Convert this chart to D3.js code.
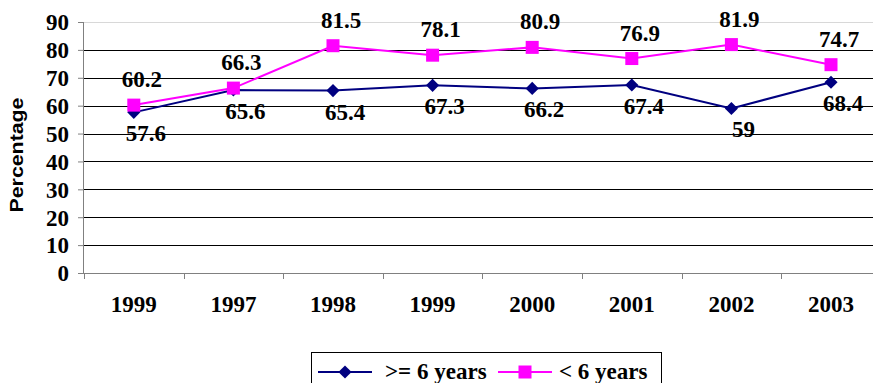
<!DOCTYPE html>
<html><head><meta charset="utf-8">
<script src="https://cdn.jsdelivr.net/npm/d3@7"></script>
<style>body{margin:0;background:#fff}svg{display:block}</style>
</head><body><svg id="c" width="873" height="383"></svg>
<script>
const categories = ["1999","1997","1998","1999","2000","2001","2002","2003"];
const seriesA = [57.6,65.6,65.4,67.3,66.2,67.4,59,68.4];   // >= 6 years
const seriesB = [60.2,66.3,81.5,78.1,80.9,76.9,81.9,74.7]; // < 6 years
const yTicks = [0,10,20,30,40,50,60,70,80,90];
const names = [">= 6 years","< 6 years"];

const svg = d3.select("#c");
const L = 84, T = 22, B = 273, band = 99.6;
const x = d3.scaleBand().domain(d3.range(categories.length)).range([L, L + band*categories.length]);
const y = d3.scaleLinear().domain([0,90]).range([B,T]);
const serif = "'Liberation Serif','Times New Roman',serif";
const FS = 23;

// gridlines
svg.append("g").selectAll("line").data(yTicks).join("line")
  .attr("x1",L).attr("x2",873).attr("y1",d=>Math.round(y(d))+0.5).attr("y2",d=>Math.round(y(d))+0.5)
  .attr("stroke",d=>d===90?"#d8d8d8":"#000").attr("stroke-width",1);

// y axis
const ya = svg.append("g").attr("transform",`translate(${L},0)`)
  .call(d3.axisLeft(y).tickValues(yTicks).tickSize(6).tickPadding(9));
ya.select(".domain").attr("stroke","#808080").attr("d",`M-0.5,${T}V${B}`);
ya.selectAll(".tick line").attr("stroke","#808080");
ya.selectAll("text").attr("font-family",serif).attr("font-weight","bold").attr("font-size",FS).attr("fill","#000").attr("dy","0.34em");

// x axis
const xa = svg.append("g").attr("transform",`translate(0,${B})`);
xa.append("line").attr("x1",L).attr("x2",873).attr("y1",0.5).attr("y2",0.5).attr("stroke","#808080");
xa.selectAll("line.t").data(d3.range(categories.length+1)).join("line").attr("class","t")
  .attr("x1",i=>Math.round(L+i*band)+0.5).attr("x2",i=>Math.round(L+i*band)+0.5).attr("y1",0).attr("y2",6).attr("stroke","#808080");
xa.selectAll("text").data(categories).join("text")
  .attr("x",(d,i)=>x(i)+x.bandwidth()/2).attr("y",39).attr("text-anchor","middle")
  .attr("font-family",serif).attr("font-weight","bold").attr("font-size",FS).text(d=>d);

// y title
svg.append("text").attr("transform","translate(23,155) rotate(-90)").attr("text-anchor","middle")
  .attr("font-family","'Liberation Sans',Arial,sans-serif").attr("font-weight","bold").attr("font-size",19)
  .attr("textLength",115).attr("lengthAdjust","spacingAndGlyphs").text("Percentage");

const cx = i => x(i)+x.bandwidth()/2;
const line = d3.line().x((d,i)=>cx(i)).y(d=>y(d));

svg.append("path").datum(seriesA).attr("d",line).attr("fill","none").attr("stroke","#000080").attr("stroke-width",2);
svg.append("path").datum(seriesB).attr("d",line).attr("fill","none").attr("stroke","#ff00ff").attr("stroke-width",2);

svg.append("g").selectAll("path").data(seriesA).join("path")
  .attr("d",d3.symbol(d3.symbolDiamond2,110)).attr("fill","#000080")
  .attr("transform",(d,i)=>`translate(${cx(i)},${y(d)})`);
svg.append("g").selectAll("rect").data(seriesB).join("rect")
  .attr("x",(d,i)=>cx(i)-6.5).attr("y",d=>y(d)-6.5).attr("width",13).attr("height",13).attr("fill","#ff00ff");

// labels
const lbl = {"font-family":serif,"font-weight":"bold","font-size":FS};
const ga = svg.append("g").selectAll("text").data(seriesA).join("text")
  .attr("x",(d,i)=>cx(i)+12).attr("y",d=>y(d)+29).attr("text-anchor","middle").text(d=>d);
const gb = svg.append("g").selectAll("text").data(seriesB).join("text")
  .attr("x",(d,i)=>cx(i)+8).attr("y",d=>y(d)-18).attr("text-anchor","middle").text(d=>d);
[ga,gb].forEach(g=>{for(const k in lbl) g.attr(k,lbl[k]);});

// legend
const lg = svg.append("g");
lg.append("rect").attr("x",311.5).attr("y",352.5).attr("width",350).attr("height",40).attr("fill","#fff").attr("stroke","#000");
const items=[{c:"#000080",sx:318,tx:385,sym:"d"},{c:"#ff00ff",sx:498,tx:559,sym:"s"}];
items.forEach((it,k)=>{
  const yy=372;
  lg.append("line").attr("x1",it.sx).attr("x2",it.sx+54).attr("y1",yy).attr("y2",yy).attr("stroke",it.c).attr("stroke-width",2);
  if(it.sym==="d") lg.append("path").attr("d",d3.symbol(d3.symbolDiamond2,110)).attr("fill",it.c).attr("transform",`translate(${it.sx+27},${yy})`);
  else lg.append("rect").attr("x",it.sx+20.5).attr("y",yy-6.5).attr("width",13).attr("height",13).attr("fill",it.c);
  lg.append("text").attr("x",it.tx).attr("y",yy+7).attr("font-family",serif).attr("font-weight","bold").attr("font-size",FS).text(names[k]);
});
</script></body></html>
